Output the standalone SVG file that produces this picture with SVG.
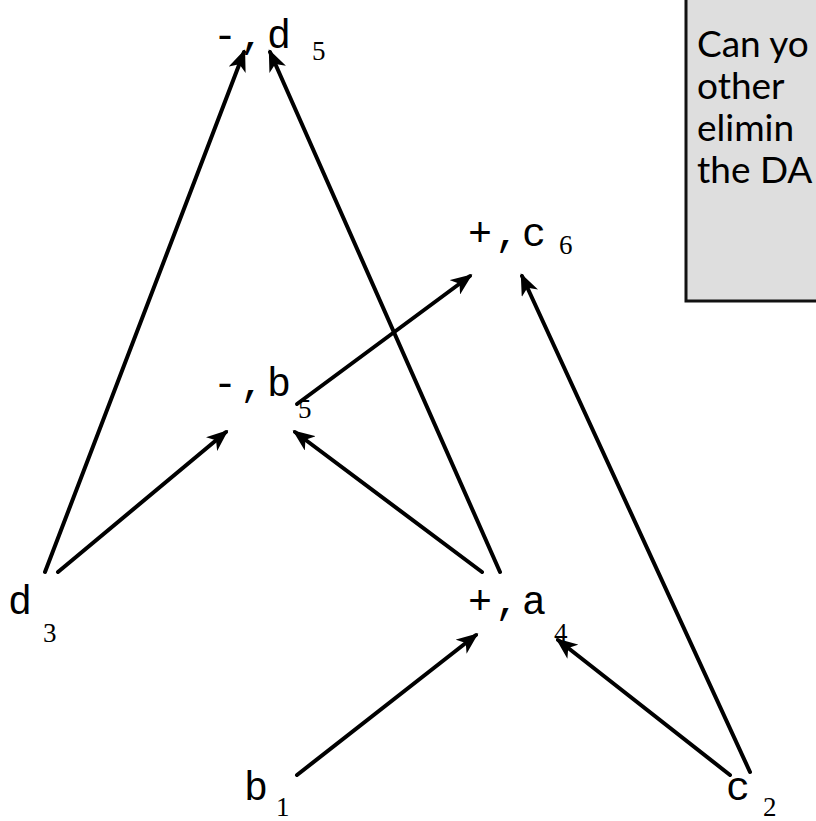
<svg xmlns="http://www.w3.org/2000/svg" width="816" height="821" viewBox="0 0 816 821">
<style>
.op{font-family:"Liberation Mono","Courier New",monospace;font-size:40px;fill:#000;letter-spacing:3px}
.sub{font-family:"Liberation Serif","Times New Roman",serif;font-size:27px;fill:#000}
.note{font-family:Lato,"Open Sans",sans-serif;font-size:37px;fill:#000}
.edge{stroke:#000;stroke-width:4;fill:none;stroke-linecap:round;marker-end:url(#ah)}
</style>
<defs>
<marker id="ah" markerUnits="userSpaceOnUse" markerWidth="22" markerHeight="18" refX="19" refY="9" orient="auto" viewBox="0 0 22 18">
<path d="M0,0 L22,9 L0,18 L6,9 z" fill="#000"/>
</marker>
</defs>
<g id="note">
<rect x="686" y="-10" width="140" height="311" fill="#dedede" stroke="#111" stroke-width="3"/>
<text class="note" x="697" y="57">Can yo</text>
<text class="note" x="697" y="99">other</text>
<text class="note" x="697" y="141">elimin</text>
<text class="note" x="697" y="183">the DA</text>
</g>
<g id="connectors">
<line class="edge" x1="45" y1="572" x2="244" y2="52"/>
<line class="edge" x1="500" y1="572" x2="270" y2="52"/>
<line class="edge" x1="297" y1="404" x2="470" y2="276"/>
<line class="edge" x1="750" y1="772" x2="522" y2="276"/>
<line class="edge" x1="58" y1="572" x2="226" y2="432"/>
<line class="edge" x1="482" y1="572" x2="295" y2="432"/>
<line class="edge" x1="297" y1="775" x2="476" y2="635"/>
<line class="edge" x1="730" y1="775" x2="558" y2="640"/>
</g>
<g id="n-d5"><text class="op" x="213" y="48">-,d</text><text class="sub" x="312" y="60">5</text></g>
<g id="n-c6"><text class="op" x="468" y="246">+,c</text><text class="sub" x="559" y="254">6</text></g>
<g id="n-b5"><text class="op" x="213" y="396">-,b</text><text class="sub" x="298" y="418">5</text></g>
<g id="n-d3"><text class="op" x="8" y="614">d</text><text class="sub" x="43" y="642">3</text></g>
<g id="n-a4"><text class="op" x="468" y="614">+,a</text><text class="sub" x="554" y="642">4</text></g>
<g id="n-b1"><text class="op" x="244" y="800">b</text><text class="sub" x="276" y="816">1</text></g>
<g id="n-c2"><text class="op" x="726" y="800">c</text><text class="sub" x="763" y="816">2</text></g>
</svg>
